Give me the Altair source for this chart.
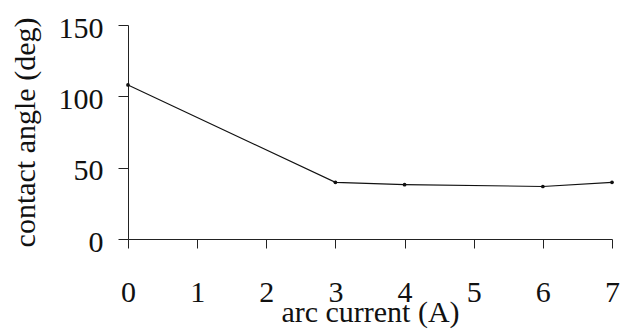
import altair as alt
import pandas as pd

current = [0, 3, 4, 6, 7]
angle = [108, 39.7, 38.1, 36.8, 39.7]
x_ticks = [0, 1, 2, 3, 4, 5, 6, 7]
y_ticks = [0, 50, 100, 150]

df = pd.DataFrame({"current": current, "angle": angle})

FONT = "Liberation Serif"
FS = 30

x_enc = alt.X(
    "current:Q",
    scale=alt.Scale(domain=[0, 7], nice=False, zero=False),
    axis=alt.Axis(
        title="arc current (A)",
        values=x_ticks,
        format="d",
        grid=False,
        tickSize=9,
        labelPadding=53,
        labelFlush=False,
        labelBaseline="alphabetic",
        labelFontSize=FS,
        labelFont=FONT,
        labelColor="#111",
        titleFont=FONT,
        titleFontSize=FS,
        titleFontWeight="normal",
        titleColor="#111",
        titleBaseline="alphabetic",
        titleY=82,
        titleX=242,
        domainColor="#222",
        tickColor="#222",
    ),
)
y_enc = alt.Y(
    "angle:Q",
    scale=alt.Scale(domain=[0, 150], nice=False),
    axis=alt.Axis(
        title="contact angle (deg)",
        values=y_ticks,
        grid=False,
        tickSize=10,
        labelPadding=15,
        labelFlush=False,
        labelFontSize=FS,
        labelFont=FONT,
        labelColor="#111",
        labelBaseline="middle",
        labelOffset=3,
        titleFont=FONT,
        titleFontSize=FS,
        titleFontWeight="normal",
        titleColor="#111",
        titleBaseline="alphabetic",
        titleX=-94,
        titleAnchor="middle",
        domainColor="#222",
        tickColor="#222",
    ),
)

line = alt.Chart(df).mark_line(color="#111", strokeWidth=1.1).encode(x=x_enc, y=y_enc)
pts = alt.Chart(df).mark_point(filled=True, color="#111", size=14, opacity=1).encode(x=x_enc, y=y_enc)

chart = (
    alt.layer(line, pts)
    .properties(
        width=484,
        height=214,
        autosize=alt.AutoSizeParams(type="none"),
        padding={"left": 128, "top": 25, "right": 9, "bottom": 91},
        background="white",
    )
    .configure_view(stroke=None)
)

chart.save("out.html", embed_options={"renderer": "svg", "actions": False})
